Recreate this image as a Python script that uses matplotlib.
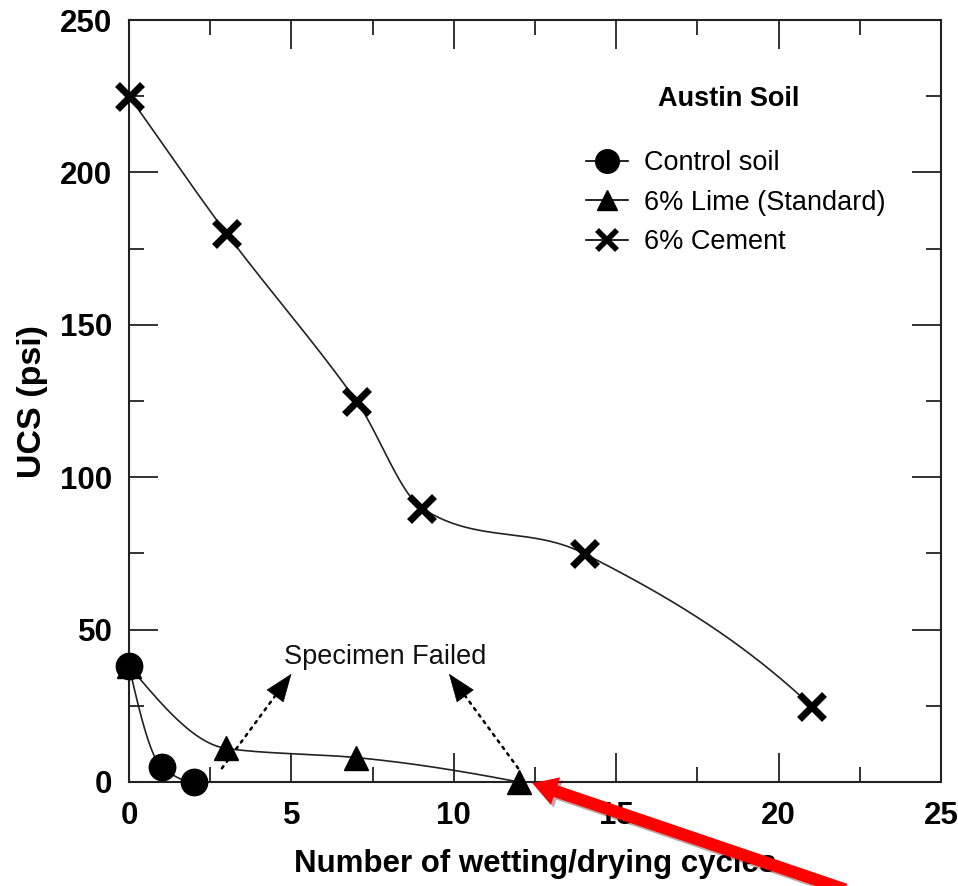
import numpy as np
import matplotlib
matplotlib.use("Agg")
from matplotlib import pyplot as plt
from matplotlib.patches import FancyArrowPatch
from matplotlib.ticker import MultipleLocator
import matplotlib.patheffects as pe

plt.rcParams['font.family'] = ['Liberation Sans', 'DejaVu Sans']

# data
control_x = [0, 1, 2]
control_y = [38, 5, 0]
lime_x = [0, 3, 7, 12]
lime_y = [38, 11, 8, 0]
cement_x = [0, 3, 7, 9, 14, 21]
cement_y = [225, 180, 125, 90, 75, 25]
labels = ["Control soil", "6% Lime (Standard)", "6% Cement"]


def hermite(x, y, m, xs):
    idx = np.clip(np.searchsorted(x, xs) - 1, 0, len(x) - 2)
    h = x[idx + 1] - x[idx]
    t = (xs - x[idx]) / h
    h00 = 2 * t**3 - 3 * t**2 + 1
    h10 = t**3 - 2 * t**2 + t
    h01 = -2 * t**3 + 3 * t**2
    h11 = t**3 - t**2
    return h00 * y[idx] + h10 * h * m[idx] + h01 * y[idx + 1] + h11 * h * m[idx + 1]


def pchip(x, y, xs):
    x = np.asarray(x, float)
    y = np.asarray(y, float)
    h = np.diff(x)
    d = np.diff(y) / h
    n = len(x)
    m = np.zeros(n)
    for k in range(1, n - 1):
        if d[k - 1] * d[k] > 0:
            w1 = 2 * h[k] + h[k - 1]
            w2 = h[k] + 2 * h[k - 1]
            m[k] = (w1 + w2) / (w1 / d[k - 1] + w2 / d[k])
    m[0] = ((2 * h[0] + h[1]) * d[0] - h[0] * d[1]) / (h[0] + h[1])
    if np.sign(m[0]) != np.sign(d[0]):
        m[0] = 0
    m[-1] = ((2 * h[-1] + h[-2]) * d[-1] - h[-1] * d[-2]) / (h[-1] + h[-2])
    if np.sign(m[-1]) != np.sign(d[-1]):
        m[-1] = 0
    return hermite(x, y, m, xs)


def cardinal(x, y, xs):
    # catmull-rom style slopes from the neighbouring points
    x = np.asarray(x, float)
    y = np.asarray(y, float)
    m = np.gradient(y, x)
    m[1:-1] = (y[2:] - y[:-2]) / (x[2:] - x[:-2])
    m[-1] = 1.4 * (y[-1] - y[-2]) / (x[-1] - x[-2])
    return hermite(x, y, m, xs)


fig = plt.figure(figsize=(9.58, 8.86), dpi=100)
ax = fig.add_axes([0.1347, 0.1174, 0.8476, 0.86])

lc = '#222222'
for xs_, ys_, f in [(control_x, control_y, pchip), (lime_x, lime_y, pchip), (cement_x, cement_y, cardinal)]:
    xx = np.linspace(xs_[0], xs_[-1], 400)
    ax.plot(xx, f(xs_, ys_, xx), color=lc, lw=1.2, zorder=2)

ax.plot(control_x, control_y, 'o', color='black', ms=19, zorder=3, clip_on=False)
ax.plot(lime_x, lime_y, '^', color='black', ms=17, zorder=3, clip_on=False)
ax.plot(cement_x, cement_y, 'x', color='black', ms=18, mew=5, zorder=3, clip_on=False)

# legend handles
h1, = ax.plot([], [], '-o', color='black', ms=17, lw=1.2, mfc='black')
h2, = ax.plot([], [], '-^', color='black', ms=14, lw=1.2)
h3, = ax.plot([], [], '-x', color='black', ms=15, mew=4, lw=1.2)
leg = ax.legend([h1, h2, h3], labels, loc='upper left', bbox_to_anchor=(0.563, 0.829),
                frameon=False, fontsize=19.5, handlelength=1.55, handletextpad=0.6,
                labelspacing=0.5, borderaxespad=0, borderpad=0)

ax.text(0.738, 0.896, "Austin Soil", transform=ax.transAxes, ha='center', va='center',
        fontsize=19.5, fontweight='bold')

ax.text(7.9, 41, "Specimen Failed", ha='center', va='center', fontsize=19.5, color='#111111')
for start, tip in [((2.86, 4.5), (5.0, 35.5)), ((11.98, 4.5), (9.85, 35.5))]:
    ax.annotate('', xy=tip, xytext=start,
                arrowprops=dict(arrowstyle='-', ls=(0, (1, 2.2)), lw=1.8, color='black',
                                shrinkA=0, shrinkB=12))
    pre = (tip[0] - 0.02 * (tip[0] - start[0]), tip[1] - 0.02 * (tip[1] - start[1]))
    ax.annotate('', xy=tip, xytext=pre,
                arrowprops=dict(arrowstyle='-|>,head_length=0.95,head_width=0.36',
                                lw=0.5, color='black', fc='black',
                                mutation_scale=20, shrinkA=0, shrinkB=0))

ax.set_xlim(0, 25)
ax.set_ylim(0, 250)
ax.xaxis.set_major_locator(MultipleLocator(5))
ax.xaxis.set_minor_locator(MultipleLocator(2.5))
ax.yaxis.set_major_locator(MultipleLocator(50))
ax.yaxis.set_minor_locator(MultipleLocator(25))
ax.tick_params(which='both', direction='in', top=True, right=True, width=1.3, color='#222222')
ax.tick_params(which='major', length=21, labelsize=22.5)
ax.tick_params(axis='y', which='major', pad=12)
ax.tick_params(axis='x', which='major', pad=14)
ax.tick_params(which='minor', length=11)
for lab in ax.get_xticklabels() + ax.get_yticklabels():
    lab.set_fontweight('bold')
for s in ax.spines.values():
    s.set_linewidth(1.5)
    s.set_color('#222222')

ax.set_xlabel("Number of wetting/drying cycles", fontsize=22.5, fontweight='bold', labelpad=13)
ax.set_ylabel("UCS (psi)", fontsize=24.5, fontweight='bold', labelpad=9)

red = FancyArrowPatch((0.885, -0.005), (0.553, 0.117), transform=fig.transFigure,
                      arrowstyle='simple,head_width=1.9,head_length=1.6,tail_width=0.8',
                      mutation_scale=11, color='#ff0000', lw=0, clip_on=False, zorder=10,
                      path_effects=[pe.SimplePatchShadow(offset=(2, -2), alpha=0.35), pe.Normal()])
fig.add_artist(red)

fig.savefig("out.png", dpi=100)
